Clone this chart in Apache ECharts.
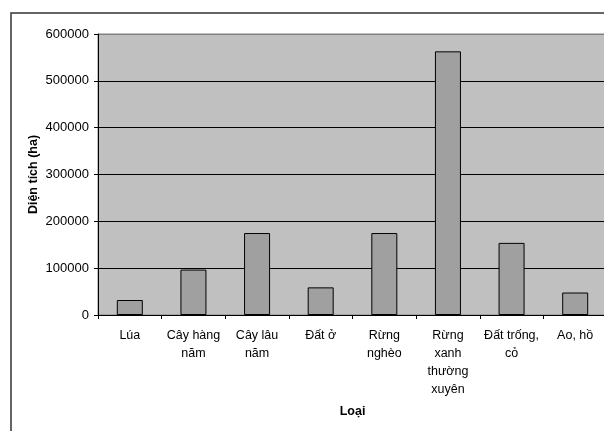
<!DOCTYPE html>
<html>
<head>
<meta charset="utf-8">
<script src="https://cdn.jsdelivr.net/npm/echarts@6/dist/echarts.min.js"></script>
<style>
  html, body { margin: 0; padding: 0; background: #fff; overflow: hidden; }
  #chart { width: 612px; height: 431px; }
</style>
</head>
<body>
<div id="chart"></div>
<script>
// 类别（按图上的换行写）
var categories = ['Lúa', 'Cây hàng\nnăm', 'Cây lâu\nnăm', 'Đất ở', 'Rừng\nnghèo', 'Rừng\nxanh\nthường\nxuyên', 'Đất trống,\ncỏ', 'Ao, hồ'];
// 面积 (ha)
var areaValues = [32000, 97000, 175000, 59000, 175000, 563000, 154000, 48000];
var yTicks = [0, 100000, 200000, 300000, 400000, 500000, 600000];

(function () {
  var myChart = echarts.init(document.getElementById('chart'));
  var font = 'Liberation Sans, Arial, sans-serif';

  var option = {
    animation: false,
    textStyle: { fontFamily: font },
    // 外框
    graphic: [
      {
        type: 'rect',
        shape: { x: 11, y: 13, width: 640, height: 520 },
        style: { fill: 'none', stroke: '#333', lineWidth: 1.5 },
        z: 100
      }
    ],
    grid: {
      left: 98,
      top: 34,
      right: 5,
      bottom: 116,
      show: true,
      backgroundColor: '#c0c0c0',
      borderColor: '#808080',
      borderWidth: 1
    },
    xAxis: {
      type: 'category',
      data: categories,
      name: 'Loại',
      nameLocation: 'middle',
      nameGap: 90,
      nameMoveOverlap: false,
      nameTextStyle: { fontWeight: 'bold', fontSize: 12.5, color: '#000', fontFamily: font },
      axisLine: { lineStyle: { color: '#000', width: 1 } },
      axisTick: { show: true, length: 4, lineStyle: { color: '#000' } },
      axisLabel: {
        interval: 0,
        color: '#000',
        fontSize: 12.5,
        lineHeight: 18,
        margin: 12,
        fontFamily: font
      },
      splitLine: { show: false }
    },
    yAxis: {
      type: 'value',
      min: yTicks[0],
      max: yTicks[yTicks.length - 1],
      interval: 100000,
      name: 'Diện tích (ha)',
      nameLocation: 'middle',
      nameGap: 58,
      nameMoveOverlap: false,
      nameTextStyle: { fontWeight: 'bold', fontSize: 12.5, color: '#000', fontFamily: font },
      axisLine: { show: true, lineStyle: { color: '#000', width: 1 } },
      axisTick: { show: true, length: 4, lineStyle: { color: '#000' } },
      axisLabel: {
        color: '#000',
        fontSize: 13,
        margin: 9,
        fontFamily: font,
        formatter: function (v) { return String(v); }
      },
      splitLine: {
        lineStyle: { color: ['#000', '#000', '#000', '#000', '#000', '#000', '#808080'], width: 1 }
      }
    },
    series: [
      {
        type: 'bar',
        data: areaValues,
        barWidth: 26,
        itemStyle: {
          color: '#a0a0a0',
          borderColor: '#000',
          borderWidth: 1
        }
      }
    ]
  };

  myChart.setOption(option);
})();
</script>
</body>
</html>
